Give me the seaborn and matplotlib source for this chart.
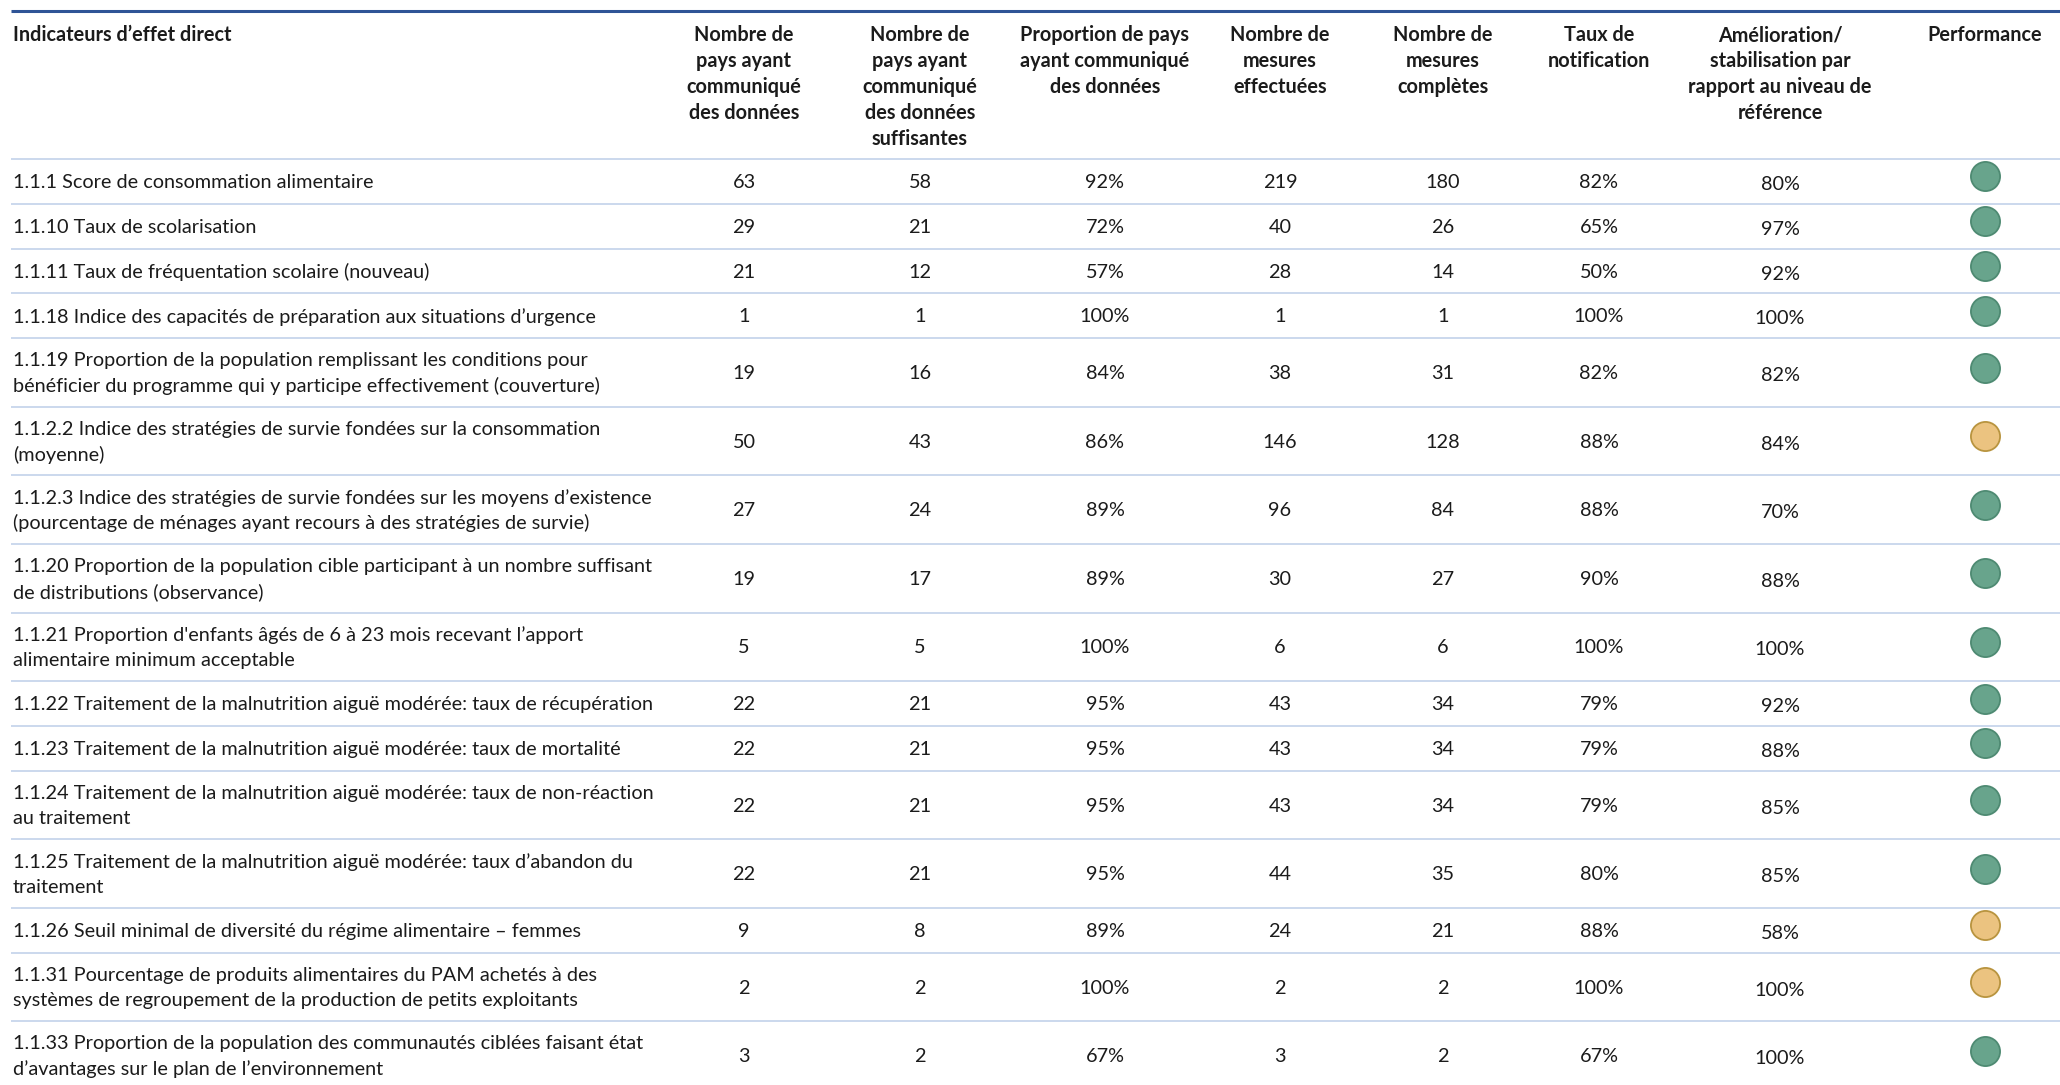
import numpy as np
import pandas as pd
import matplotlib.pyplot as plt
import seaborn as sns

# table content
indicators = [
    "1.1.1 Score de consommation alimentaire",
    "1.1.10 Taux de scolarisation",
    "1.1.11 Taux de fréquentation scolaire (nouveau)",
    "1.1.18 Indice des capacités de préparation aux situations d’urgence",
    "1.1.19 Proportion de la population remplissant les conditions pour\nbénéficier du programme qui y participe effectivement (couverture)",
    "1.1.2.2 Indice des stratégies de survie fondées sur la consommation\n(moyenne)",
    "1.1.2.3 Indice des stratégies de survie fondées sur les moyens d’existence\n(pourcentage de ménages ayant recours à des stratégies de survie)",
    "1.1.20 Proportion de la population cible participant à un nombre suffisant\nde distributions (observance)",
    "1.1.21 Proportion d'enfants âgés de 6 à 23 mois recevant l’apport\nalimentaire minimum acceptable",
    "1.1.22 Traitement de la malnutrition aiguë modérée: taux de récupération",
    "1.1.23 Traitement de la malnutrition aiguë modérée: taux de mortalité",
    "1.1.24 Traitement de la malnutrition aiguë modérée: taux de non-réaction\nau traitement",
    "1.1.25 Traitement de la malnutrition aiguë modérée: taux d’abandon du\ntraitement",
    "1.1.26 Seuil minimal de diversité du régime alimentaire – femmes",
    "1.1.31 Pourcentage de produits alimentaires du PAM achetés à des\nsystèmes de regroupement de la production de petits exploitants",
    "1.1.33 Proportion de la population des communautés ciblées faisant état\nd’avantages sur le plan de l’environnement",
]
pays_donnees = [63, 29, 21, 1, 19, 50, 27, 19, 5, 22, 22, 22, 22, 9, 2, 3]
pays_suffisantes = [58, 21, 12, 1, 16, 43, 24, 17, 5, 21, 21, 21, 21, 8, 2, 2]
proportion = [92, 72, 57, 100, 84, 86, 89, 89, 100, 95, 95, 95, 95, 89, 100, 67]
mesures_effectuees = [219, 40, 28, 1, 38, 146, 96, 30, 6, 43, 43, 43, 44, 24, 2, 3]
mesures_completes = [180, 26, 14, 1, 31, 128, 84, 27, 6, 34, 34, 34, 35, 21, 2, 2]
taux_notification = [82, 65, 50, 100, 82, 88, 88, 90, 100, 79, 79, 79, 80, 88, 100, 67]
amelioration = [80, 97, 92, 100, 82, 84, 70, 88, 100, 92, 88, 85, 85, 58, 100, 100]
performance = ["vert", "vert", "vert", "vert", "vert", "orange", "vert", "vert",
               "vert", "vert", "vert", "vert", "vert", "orange", "orange", "vert"]

headers = [
    "Indicateurs d’effet direct",
    "Nombre de\npays ayant\ncommuniqué\ndes données",
    "Nombre de\npays ayant\ncommuniqué\ndes données\nsuffisantes",
    "Proportion de pays\nayant communiqué\ndes données",
    "Nombre de\nmesures\neffectuées",
    "Nombre de\nmesures\ncomplètes",
    "Taux de\nnotification",
    "Amélioration/\nstabilisation par\nrapport au niveau de\nréférence",
    "Performance",
]

# layout (pixels)
W, H = 2060, 1085
col_x = [13, 744, 920, 1105, 1280, 1443, 1599, 1780, 1985]
top_line = 11
header_bottom = 159
row_h1, row_h2 = 44.8, 68.6
line_gap = 25.5
TXT = "#1b1b1b"
FS = 14.3

sns.set_theme(style="white")
plt.rcParams["font.family"] = ["Lato", "DejaVu Sans"]

fig = plt.figure(figsize=(W / 100, H / 100), dpi=100)
ax = fig.add_axes([0, 0, 1, 1])
ax.set_xlim(0, W)
ax.set_ylim(H, 0)
ax.axis("off")

# header
ax.hlines(top_line, 11, W, color="#2f5496", lw=2.2)
for j, h in enumerate(headers):
    for k, line in enumerate(h.split("\n")):
        ax.text(col_x[j], 35 + 26 * k, line, ha="left" if j == 0 else "center",
                va="center", fontsize=FS, fontweight="bold", color=TXT)
ax.hlines(header_bottom, 11, W, color="#c7d5ec", lw=1.3)

# rows
heights = [row_h2 if "\n" in t else row_h1 for t in indicators]
edges = header_bottom + np.concatenate([[0], np.cumsum(heights)])
centers = (edges[:-1] + edges[1:]) / 2

df = pd.DataFrame({
    "indicateur": indicators,
    "c1": [str(v) for v in pays_donnees],
    "c2": [str(v) for v in pays_suffisantes],
    "c3": [f"{v}%" for v in proportion],
    "c4": [str(v) for v in mesures_effectuees],
    "c5": [str(v) for v in mesures_completes],
    "c6": [f"{v}%" for v in taux_notification],
    "c7": [f"{v}%" for v in amelioration],
    "performance": performance,
    "y": centers + 1,
})

for i, r in df.iterrows():
    lines = r["indicateur"].split("\n")
    n = len(lines)
    for k, line in enumerate(lines):
        ax.text(col_x[0], r["y"] + (k - (n - 1) / 2) * line_gap, line,
                ha="left", va="center", fontsize=FS, color=TXT)
    for j, c in enumerate(["c1", "c2", "c3", "c4", "c5", "c6", "c7"], start=1):
        dy = 2 if c == "c7" else 0
        ax.text(col_x[j], r["y"] + dy, r[c], ha="center", va="center",
                fontsize=FS, color=TXT)
    if i < len(df) - 1:
        ax.hlines(edges[i + 1], 11, W, color="#c7d5ec", lw=1.3)

# performance circles
df["px"] = col_x[8]
df["py"] = df["y"] - 6
fills = {"vert": "#68a48c", "orange": "#ebc380"}
edgec = {"vert": "#4e8a72", "orange": "#b8943f"}
for status in ["vert", "orange"]:
    sub = df[df["performance"] == status]
    sns.scatterplot(data=sub, x="px", y="py", ax=ax, s=440, color=fills[status],
                    edgecolor=edgec[status], linewidth=1.3, legend=False, zorder=3)

ax.set_xlim(0, W)
ax.set_ylim(H, 0)
ax.axis("off")
fig.savefig("out.png", dpi=100)
